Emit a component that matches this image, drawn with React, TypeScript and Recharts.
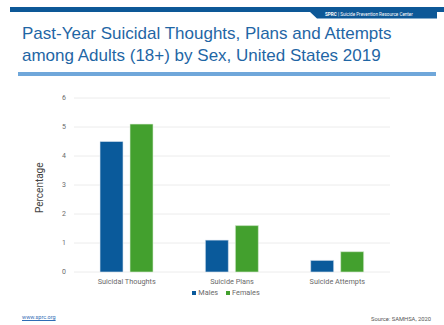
import { Bar, BarChart, CartesianGrid, Legend, XAxis, YAxis } from "recharts";

const categories = ["Suicidal Thoughts", "Suicide Plans", "Suicide Attempts"];
const males = [4.5, 1.1, 0.4];
const females = [5.1, 1.6, 0.7];
const yTicks = [0, 1, 2, 3, 4, 5, 6];

const data = categories.map((name, i) => ({
  name,
  Males: males[i],
  Females: females[i],
}));

const BLUE = "#0a5a9b";
const GREEN = "#43a02e";
const FONT = "Roboto, 'Liberation Sans', Arial, sans-serif";

const series = [
  { key: "Males", color: BLUE },
  { key: "Females", color: GREEN },
];

function LegendRow() {
  return (
    <div style={{ textAlign: "center", fontSize: 7.3, fontFamily: FONT, lineHeight: "10px", color: "#6a6a6a" }}>
      {series.map((s) => (
        <span key={s.key} style={{ marginRight: 8 }}>
          <span
            style={{
              display: "inline-block",
              width: 4,
              height: 4,
              background: s.color,
              marginRight: 2,
              verticalAlign: "middle",
            }}
          />
          {s.key}
        </span>
      ))}
    </div>
  );
}

export default function App() {
  return (
    <div
      style={{
        position: "absolute",
        left: 0,
        top: 0,
        width: 444,
        height: 325,
        background: "#fff",
        overflow: "hidden",
        fontFamily: "'Liberation Sans', Arial, sans-serif",
      }}
    >
      {/* header band */}
      <div style={{ position: "absolute", left: 10, top: 7, width: 434, height: 5, background: "#0d5897" }} />
      <svg style={{ position: "absolute", left: 0, top: 0 }} width={444} height={30}>
        <polygon points="309,11 437,11 437,18.5 317,18.5" fill="#0d5897" />
        <text x={325} y={16.3} fill="#fff" fontSize={4.6} fontFamily={FONT}>
          <tspan fontWeight="bold">SPRC</tspan>
          {"  |  Suicide Prevention Resource Center"}
        </text>
      </svg>
      <div
        style={{
          position: "absolute",
          left: 22,
          top: 23,
          fontSize: 17,
          lineHeight: "22px",
          color: "#1f66a5",
          whiteSpace: "nowrap",
        }}
      >
        Past-Year Suicidal Thoughts, Plans and Attempts
        <br />
        among Adults (18+) by Sex, United States 2019
      </div>
      <div style={{ position: "absolute", left: 18, top: 72, width: 418, height: 4, background: "#6fa7da" }} />

      <div style={{ position: "absolute", left: 0, top: 0 }}>
        <BarChart
          width={444}
          height={325}
          data={data}
          margin={{ top: 98, right: 54, bottom: 27, left: 54 }}
          barCategoryGap="24.7%"
          barGap={7}
        >
          <CartesianGrid vertical={false} stroke="#ececec" />
          <XAxis
            dataKey="name"
            axisLine={false}
            tickLine={false}
            tickSize={0}
            tickMargin={7}
            height={16}
            tick={{ fill: "#6a6a6a", fontSize: 7.3, fontFamily: FONT }}
          />
          <YAxis
            domain={[0, 6]}
            ticks={yTicks}
            axisLine={false}
            tickLine={false}
            tickSize={0}
            tickMargin={8}
            width={20}
            tick={{ fill: "#6a6a6a", fontSize: 7, fontFamily: FONT }}
            label={{
              value: "Percentage",
              angle: -90,
              position: "insideLeft",
              dx: -20,
              dy: 28,
              style: { fill: "#444", fontSize: 10, fontFamily: FONT },
            }}
          />
          <Legend height={10} wrapperStyle={{ left: 62 }} content={() => <LegendRow />} />
          <Bar dataKey="Males" fill={BLUE} stroke="#dbe6f0" strokeWidth={0.6} isAnimationActive={false} />
          <Bar dataKey="Females" fill={GREEN} stroke="#dcedd7" strokeWidth={0.6} isAnimationActive={false} />
        </BarChart>
      </div>

      <div
        style={{
          position: "absolute",
          left: 22,
          top: 314,
          fontSize: 5.5,
          color: "#2f6db5",
          textDecoration: "underline",
          fontFamily: FONT,
        }}
      >
        www.sprc.org
      </div>
      <div
        style={{
          position: "absolute",
          right: 13,
          top: 316,
          fontSize: 5.8,
          color: "#555",
          fontFamily: FONT,
        }}
      >
        Source: SAMHSA, 2020
      </div>
    </div>
  );
}
